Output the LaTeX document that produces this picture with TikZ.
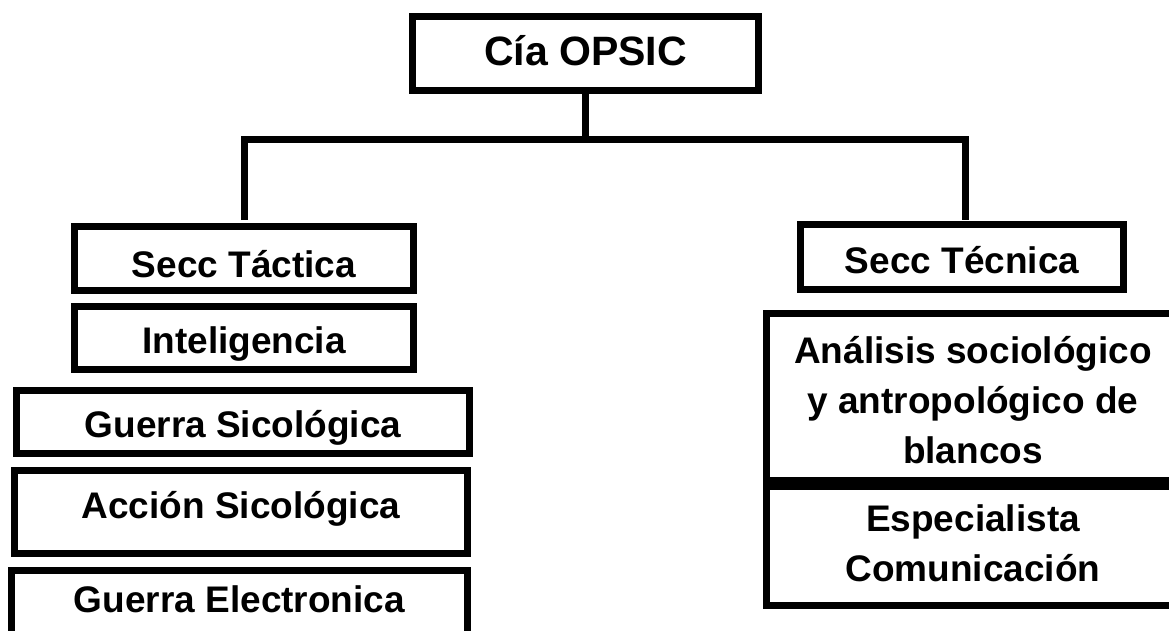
\documentclass[tikz,border=0pt]{standalone}
\usepackage{fontspec}
\setmainfont{Liberation Sans}
\begin{document}
\begin{tikzpicture}[x=1pt,y=-1pt,
  box/.style={draw=black,line width=7pt,rectangle,inner sep=0pt,align=center,
    font=\bfseries\fontsize{37}{50}\selectfont},
  conn/.style={draw=black,line width=7pt}]
\useasboundingbox (0,0) rectangle (1169,630);
\fill[white] (0,0) rectangle (1169,630);
% boxes
\node[box,minimum width=346pt,minimum height=74pt,text height=23pt,text depth=0pt,
  font=\bfseries\fontsize{41}{50}\selectfont] (top) at (585.5,53.5) {Cía OPSIC};
\node[box,minimum width=339pt,minimum height=64pt,text height=37pt,text depth=0pt] (tac) at (244,258.5) {Secc Táctica};
\node[box,minimum width=339pt,minimum height=63pt,text height=30pt,text depth=0pt] (intel) at (244,338) {Inteligencia};
\node[box,minimum width=453pt,minimum height=63pt,text height=30pt,text depth=0pt] (gsic) at (243,422) {Guerra Sicológica};
\node[box,minimum width=453pt,minimum height=83pt,text height=12pt,text depth=0pt] (asic) at (241,512) {Acción Sicológica};
\node[box,minimum width=456pt,minimum height=83pt,text height=0pt,text depth=0pt] (gelec) at (239.5,612) {Guerra Electronica};
\node[box,minimum width=323pt,minimum height=65pt,text height=32pt,text depth=0pt] (tec) at (962,257) {Secc Técnica};
\node[box,minimum width=413pt,minimum height=173pt] (anal) at (973,400) {Análisis sociológico\\y antropológico de\\blancos};
\node[box,minimum width=413pt,minimum height=125pt] (esp) at (973,543) {Especialista\\Comunicación};
% connectors
\coordinate (hl) at (244,139);
\coordinate (hr) at (965,139);
\coordinate (tl) at (244,220);
\coordinate (tr) at (965,220);
\draw[conn] (top.south) -- (top.south |- hl);
\draw[conn] (tl) -- (hl) -- (hr) -- (tr);
\end{tikzpicture}
\end{document}
